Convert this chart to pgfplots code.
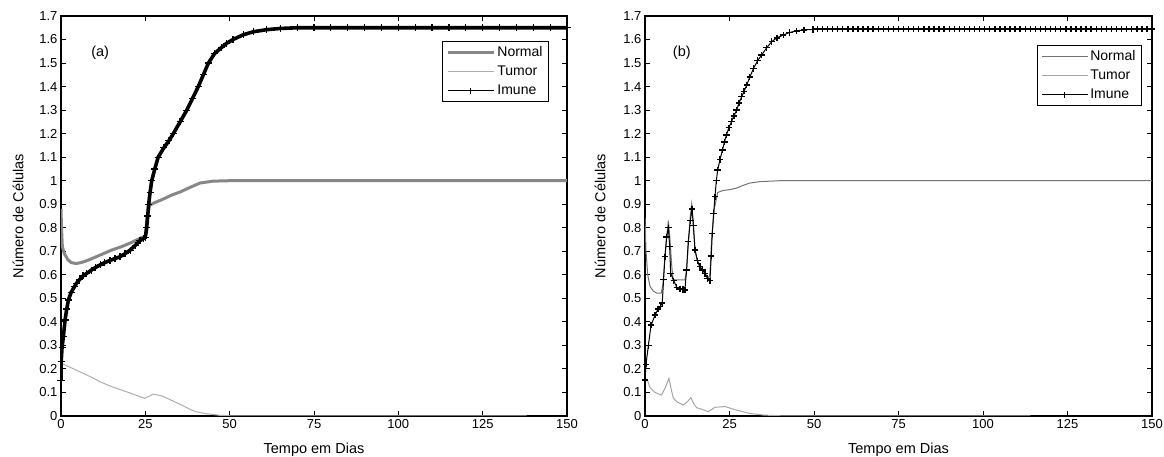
\documentclass[border=0pt]{standalone}
\usepackage{fontspec}
\setmainfont{Liberation Sans}
\usepackage{pgfplots}
\pgfplotsset{compat=1.18}

\definecolor{normA}{gray}{0.53}
\definecolor{tumA}{gray}{0.68}
\definecolor{normB}{gray}{0.45}
\definecolor{tumB}{gray}{0.65}

\pgfplotsset{
  panel/.style={
    scale only axis, height=400pt,
    xmin=0, xmax=150, ymin=0, ymax=1.7,
    xtick={0,25,50,75,100,125,150},
    ytick={0,0.1,0.2,0.3,0.4,0.5,0.6,0.7,0.8,0.9,1,1.1,1.2,1.3,1.4,1.5,1.6,1.7},
    tick align=inside, major tick length=5pt,
    tick style={black, line width=0.9pt},
    axis line style={line width=1.2pt},
    /pgf/number format/assume math mode=true,
    ticklabel style={font=\fontsize{13}{15}\selectfont},
    label style={font=\fontsize{14.5}{16}\selectfont},
    xlabel={Tempo em Dias},
    ylabel={Número de Células},
    xlabel style={at={([yshift=-38pt]axis description cs:0.5,0)}, anchor=base},
    legend cell align=left,
    legend style={draw=black, line width=0.9pt, font=\fontsize{14}{16}\selectfont,
      inner xsep=4pt, inner ysep=3pt, row sep=4pt,
      nodes={inner sep=2pt}},
    legend image code/.code={\draw[##1] (0pt,0pt) -- (46pt,0pt);},
  }
}

\begin{document}
\begin{tikzpicture}
\path[use as bounding box] (0,0) rectangle (1164pt,457pt);

% ---------- (a)
\begin{axis}[panel, at={(61pt,41pt)}, width=506pt,
  ylabel style={at={([xshift=-43pt]axis description cs:0,0.5)}, anchor=center},
  legend style={at={(0.9644,0.9375)}, anchor=north east}]
\addplot[normA, line width=3pt, forget plot] coordinates {
(0,0.88) (0.15,0.80) (0.4,0.72) (1,0.69) (2,0.665) (3,0.652) (4.5,0.648)
(6,0.652) (8,0.662) (11.6,0.684) (15,0.705) (18,0.72) (21,0.738) (23.4,0.755)
(25,0.765) (25.5,0.84) (26.2,0.895) (27.5,0.905) (30,0.92) (33,0.94)
(35.3,0.952) (38,0.97) (41.2,0.99) (45,0.998) (50,1.0) (60,1.0) (150,1.0)};
\addplot[tumA, line width=1pt, forget plot] coordinates {
(0,0.225) (3,0.205) (6,0.185) (9,0.165) (11.6,0.145) (15,0.125) (18,0.11)
(21,0.095) (24.8,0.075) (25.5,0.08) (27.4,0.093) (30,0.085) (33,0.065)
(36,0.045) (38,0.03) (40,0.018) (43,0.01) (47,0.003) (50,0.001) (138,0.0)};
\addplot[black, line width=3.6pt, mark=+, mark size=3.5pt,
  mark options={line width=1.2pt}, forget plot] coordinates {
(0,0.15) (0.05,0.23) (0.3,0.29) (0.7,0.337) (1.2,0.408) (1.7,0.455) (2.2,0.493)
(3,0.525) (4,0.55) (4.6,0.564) (5.5,0.58) (6.5,0.595) (7.6,0.606) (9,0.62)
(10.3,0.632) (11.6,0.642) (13,0.652) (14.5,0.661) (16,0.669) (17.5,0.677)
(19,0.69) (20.5,0.705) (22,0.725) (23.4,0.745) (24.5,0.755) (25,0.76)
(25.4,0.80) (25.7,0.85) (26,0.90) (26.4,0.95) (26.9,1.0) (27.8,1.05)
(28.8,1.10) (30.5,1.14) (32,1.17) (33.3,1.20) (35.3,1.25) (37.3,1.30)
(39,1.35) (40.7,1.40) (42.2,1.45) (43.7,1.50) (45.5,1.54) (47.5,1.565)
(49.1,1.584) (51,1.60) (54,1.62) (57,1.633) (61,1.642) (65,1.647) (70,1.65)
(75,1.65) (80,1.65) (85,1.65) (90,1.65) (95,1.65) (100,1.65) (105,1.65)
(110,1.65) (115,1.65) (120,1.65) (125,1.65) (130,1.65) (135,1.65) (140,1.65)
(145,1.65) (150,1.65)};
\addlegendimage{normA, line width=3pt}
\addlegendentry{Normal}
\addlegendimage{tumA, line width=1pt}
\addlegendentry{Tumor}
\addlegendimage{black, legend image code/.code={
  \draw[black, line width=0.9pt] (0pt,0pt) -- (46pt,0pt);
  \draw[black, line width=1.1pt] (20pt,0pt) -- (26pt,0pt) (23pt,-3pt) -- (23pt,3pt);}}
\addlegendentry{Imune}
\node[font=\fontsize{14.5}{16}\selectfont] at (axis cs:11.6,1.543) {(a)};
\end{axis}

% ---------- (b)
\begin{axis}[panel, at={(645pt,41pt)}, width=507pt,
  ylabel style={at={([xshift=-45pt]axis description cs:0,0.5)}, anchor=center},
  legend style={at={(0.980,0.9275)}, anchor=north east}]
\addplot[normB, line width=1pt, forget plot] coordinates {
(0,0.84) (0.3,0.70) (0.8,0.60) (1.5,0.55) (2.5,0.53) (3.5,0.522) (4.8,0.522)
(5.3,0.56) (5.8,0.66) (6.4,0.76) (6.9,0.83) (7.4,0.75) (7.9,0.64) (8.3,0.58)
(9.5,0.578) (11.8,0.578) (12.3,0.62) (12.8,0.73) (13.4,0.85) (13.8,0.90)
(14.3,0.82) (14.8,0.70) (15.8,0.645) (17,0.62) (18.6,0.585) (19.2,0.60)
(19.7,0.75) (20.5,0.88) (21.5,0.95) (23,0.958) (25,0.962) (27,0.968)
(29,0.98) (31,0.99) (34,0.996) (40,1.0) (150,1.0)};
\addplot[tumB, line width=1pt, forget plot] coordinates {
(0,0.16) (0.7,0.153) (1.5,0.12) (3,0.10) (4.9,0.089) (6,0.12) (7.1,0.16)
(7.8,0.11) (8.4,0.075) (9.5,0.06) (11.3,0.047) (12.5,0.06) (13.6,0.078)
(14.5,0.05) (15.3,0.035) (17,0.028) (18.7,0.018) (20.7,0.037) (23.7,0.04)
(27.1,0.025) (31,0.011) (35,0.004) (40,0.001) (114,0)};
\addplot[black, line width=1pt, mark=+, mark size=3.2pt,
  mark options={line width=1.4pt}, forget plot] coordinates {
(0,0.153) (0.3,0.22) (1,0.30) (1.8,0.387) (3,0.429) (3.9,0.455) (4.5,0.465)
(5.1,0.481) (5.5,0.58) (5.9,0.677) (6.4,0.76) (6.9,0.80) (7.3,0.72)
(7.6,0.606) (8.5,0.575) (9.4,0.547) (10.4,0.540) (11.2,0.537) (11.8,0.535)
(12.3,0.62) (12.8,0.741) (13.4,0.83) (13.9,0.88) (14.3,0.81) (14.8,0.706)
(15.5,0.66) (16.3,0.635) (17,0.62) (17.8,0.606) (18.5,0.585) (19.2,0.575)
(19.6,0.68) (19.9,0.776) (20.3,0.86) (20.7,0.932) (21.1,1.0) (21.5,1.045)
(22.2,1.09) (22.9,1.13) (23.5,1.165) (24.1,1.194) (24.8,1.225) (25.6,1.251)
(26.3,1.275) (27.1,1.30) (27.8,1.33) (28.6,1.357) (29.3,1.38) (30.1,1.407)
(31,1.44) (32.1,1.477) (33.3,1.51) (34.5,1.534) (36,1.565) (37.5,1.591)
(39,1.607) (40.9,1.619) (42.8,1.630) (44.9,1.637) (47,1.641) (49.7,1.643)
(51,1.645) (52.5,1.645) (54,1.645) (55.5,1.645) (57,1.645) (58.5,1.645)
(60,1.645) (61.5,1.645) (63,1.645) (64.5,1.645) (66,1.645) (67.5,1.645)
(69,1.645) (70.5,1.645) (72,1.645) (73.5,1.645) (75,1.645) (76.5,1.645)
(78,1.645) (79.5,1.645) (81,1.645) (82.5,1.645) (84,1.645) (85.5,1.645)
(87,1.645) (88.5,1.645) (90,1.645) (91.5,1.645) (93,1.645) (94.5,1.645)
(96,1.645) (97.5,1.645) (99,1.645) (100.5,1.645) (102,1.645) (103.5,1.645)
(105,1.645) (106.5,1.645) (108,1.645) (109.5,1.645) (111,1.645) (112.5,1.645)
(114,1.645) (115.5,1.645) (117,1.645) (118.5,1.645) (120,1.645) (121.5,1.645)
(123,1.645) (124.5,1.645) (126,1.645) (127.5,1.645) (129,1.645) (130.5,1.645)
(132,1.645) (133.5,1.645) (135,1.645) (136.5,1.645) (138,1.645) (139.5,1.645)
(141,1.645) (142.5,1.645) (144,1.645) (145.5,1.645) (147,1.645) (148.5,1.645)
(150,1.645)};
\addlegendimage{normB, line width=1pt}
\addlegendentry{Normal}
\addlegendimage{tumB, line width=1pt}
\addlegendentry{Tumor}
\addlegendimage{black, legend image code/.code={
  \draw[black, line width=0.9pt] (0pt,0pt) -- (46pt,0pt);
  \draw[black, line width=1.1pt] (20pt,0pt) -- (26pt,0pt) (23pt,-3pt) -- (23pt,3pt);}}
\addlegendentry{Imune}
\node[font=\fontsize{14.5}{16}\selectfont] at (axis cs:10.9,1.543) {(b)};
\end{axis}
\end{tikzpicture}
\end{document}
